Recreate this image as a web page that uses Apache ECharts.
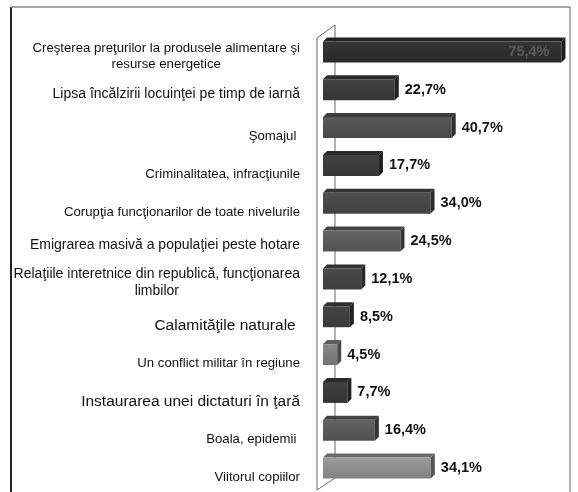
<!DOCTYPE html>
<html>
<head>
<meta charset="utf-8">
<script src="https://cdn.jsdelivr.net/npm/echarts@6/dist/echarts.min.js"></script>
<style>
  html, body { margin: 0; padding: 0; background: #fff; }
  #chart { width: 578px; height: 492px; }
</style>
</head>
<body>
<div id="chart"></div>
<script>
// Chart data
const categories = [
  'Creşterea preţurilor la produsele alimentare şi\nresurse energetice',
  'Lipsa încălzirii locuinţei pe timp de iarnă',
  'Şomajul ',
  'Criminalitatea, infracţiunile',
  'Corupţia funcţionarilor de toate nivelurile',
  'Emigrarea masivă a populaţiei peste hotare',
  'Relaţiile interetnice din republică, funcţionarea\nlimbilor',
  'Calamităţile naturale ',
  'Un conflict militar în regiune',
  'Instaurarea unei dictaturi în ţară',
  'Boala, epidemii ',
  'Viitorul copiilor'
];
const values = [75.4, 22.7, 40.7, 17.7, 34.0, 24.5, 12.1, 8.5, 4.5, 7.7, 16.4, 34.1];

// styling per bar (grayscale scan look)
const barColors = ['#2f2f2f', '#3b3b3b', '#505050', '#3b3b3b', '#474747', '#5a5a5a',
  '#424242', '#3e3e3e', '#7c7c7c', '#393939', '#585858', '#8d8d8d'];
// label style keys: s = small, b = big, B = bigger
const labelStyle = ['s', 'b', 's', 's', 's', 'b', 'b', 'B', 's', 'B', 's', 's'];

function shade(hex, k) {
  const n = parseInt(hex.slice(1), 16);
  const c = [(n >> 16) & 255, (n >> 8) & 255, n & 255].map(v => Math.max(0, Math.min(255, Math.round(v * k))));
  return 'rgb(' + c.join(',') + ')';
}

const chart = echarts.init(document.getElementById('chart'));
const D = 4;
const FONT = 'Liberation Sans';

chart.setOption({
  animation: false,
  grid: { left: 323, right: 2, top: 31, bottom: 7 },
  xAxis: { type: 'value', min: 0, max: 80, show: false },
  yAxis: {
    type: 'category',
    data: categories,
    inverse: true,
    axisLine: { show: false },
    axisTick: { show: false },
    axisLabel: {
      margin: 23,
      padding: [12, 0, 0, 0],
      formatter: function (val, idx) {
        const k = labelStyle[idx];
        if (val.indexOf('\n') >= 0) {
          return val.split('\n').map(l => '{' + k + 'c|' + l + '}').join('\n');
        }
        return '{' + k + '|' + val + '}';
      },
      rich: {
        s: { fontFamily: FONT, fontSize: 13.2, color: '#111', padding: [10, 0, 0, 0] },
        b: { fontFamily: FONT, fontSize: 14, color: '#111' },
        B: { fontFamily: FONT, fontSize: 15.5, color: '#111', padding: [10, 0, 0, 0] },
        sc: { fontFamily: FONT, fontSize: 13.2, color: '#111', lineHeight: 16, align: 'center' },
        bc: { fontFamily: FONT, fontSize: 14, color: '#111', lineHeight: 17, align: 'center' }
      }
    }
  },
  graphic: [
    // scan frame
    { type: 'line', shape: { x1: 11, y1: 7, x2: 11, y2: 492 }, style: { stroke: '#222', lineWidth: 2 } },
    { type: 'line', shape: { x1: 11, y1: 7, x2: 570, y2: 7 }, style: { stroke: '#888', lineWidth: 1.5 } },
    { type: 'line', shape: { x1: 570, y1: 7, x2: 570, y2: 492 }, style: { stroke: '#666', lineWidth: 1 } },
    // 3d wall
    { type: 'polyline', z: -1, shape: { points: [[317, 490], [317, 38], [335, 25], [335, 478], [317, 490]] },
      style: { stroke: '#666', lineWidth: 1, fill: null } }
  ],
  series: [{
    type: 'custom',
    data: values.map((v, i) => [v, i]),
    encode: { x: 0, y: 1 },
    renderItem: function (params, api) {
      const i = api.value(1);
      const v = api.value(0);
      const p0 = api.coord([0, i]);
      const p1 = api.coord([v, i]);
      const h = api.size([0, 1])[1] * 0.66;
      const x0 = p0[0], x1 = p1[0];
      const y0 = p0[1] - h / 2, y1 = p0[1] + h / 2;
      const base = barColors[i];
      const txt = v.toFixed(1).replace('.', ',') + '%';
      const inside = i === 0;
      return {
        type: 'group',
        children: [
          { type: 'polygon', shape: { points: [[x0, y0 + D], [x0 + D, y0], [x1 + D, y0], [x1, y0 + D]] },
            style: { fill: shade(base, 0.75) } },
          { type: 'rect', shape: { x: x0, y: y0 + D, width: x1 - x0, height: y1 - y0 - D },
            style: { fill: new echarts.graphic.LinearGradient(0, 0, 0, 1, [
              { offset: 0, color: shade(base, 1.12) },
              { offset: 0.5, color: base },
              { offset: 1, color: shade(base, 0.92) }
            ]) } },
          { type: 'polygon', shape: { points: [[x1, y0 + D], [x1 + D, y0], [x1 + D, y1 - D], [x1, y1]] },
            style: { fill: shade(base, 0.6) } },
          { type: 'text', style: {
              x: inside ? x1 - 12 : x1 + D + 6, y: p0[1] + 2,
              text: txt, align: inside ? 'right' : 'left', verticalAlign: 'middle',
              fontFamily: FONT, fontWeight: 'bold', fontSize: 14.5,
              fill: inside ? '#5a5a5a' : '#111'
            } }
        ]
      };
    }
  }]
});
</script>
</body>
</html>
